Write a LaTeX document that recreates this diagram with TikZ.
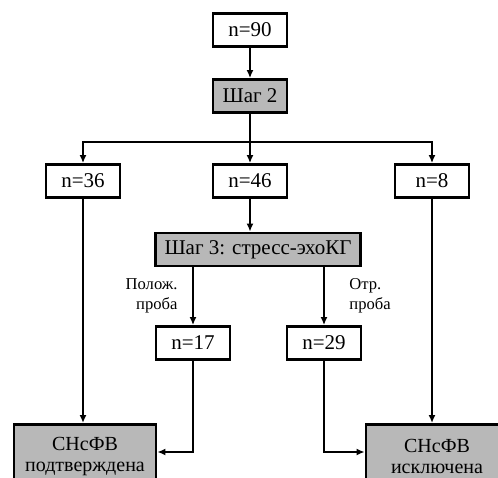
\documentclass[tikz,border=0pt]{standalone}
\usepackage{fontspec}
\setmainfont{Liberation Serif}
\usetikzlibrary{arrows.meta}

\begin{document}
\begin{tikzpicture}[x=0.5pt,y=-0.5pt,>={Latex[length=4pt,width=3.5pt]},
    box/.style={draw,line width=1.4pt,minimum width=37pt,minimum height=16.5pt,inner sep=0pt,font=\fontsize{10.5}{12}\selectfont},
    graybox/.style={box,fill=black!28},
    result/.style={graybox,minimum width=71pt,minimum height=32pt,align=center,anchor=north,
      font=\fontsize{10}{10.5}\selectfont},
    flow/.style={line width=0.8pt},
    note/.style={font=\fontsize{8.3}{10}\selectfont,align=left}]
      \useasboundingbox (0,0) rectangle (498,477);
      \clip (0,0) rectangle (498,477);
      \node[box] (n90) at (250,30) {n=90};
      \node[graybox] (step2) at (250,96) {Шаг 2};
      \coordinate (split) at (250,142);
      \node[box] (n36) at (83,181) {n=36};
      \node[box] (n46) at (250,181) {n=46};
      \node[box] (n8) at (432,181) {n=8};
      \node[graybox,minimum width=102.5pt] (step3) at (258,249.5) {Шаг 3: стресс-эхоКГ};
      \node[box] (n17) at (193,343) {n=17};
      \node[box] (n29) at (324,343) {n=29};
      \node[result] (yes) at (85,423) {СНсФВ\\подтверждена};
      \node[result] (no) at (437,423) {СНсФВ\\исключена};
      \draw[->,flow] (n90) -- (step2);
      \draw[flow] (step2) -- (split);
      \draw[->,flow] (split) -| (n36);
      \draw[->,flow] (split) -- (n46);
      \draw[->,flow] (split) -| (n8);
      \draw[->,flow] (n46) -- (n46 |- step3.north);
      \draw[->,flow] (step3.south -| n17) -- node[note,left=4pt,align=right] {Полож.\\проба} (n17);
      \draw[->,flow] (step3.south -| n29) -- node[note,right=9pt] {Отр.\\проба} (n29);
      %
      \draw[->,flow] (n36) -- (n36 |- yes.north);
      \draw[->,flow] (n8) -- (n8 |- no.north);
      \draw[->,flow] (n17) |- (yes.east |- 0,452);
      \draw[->,flow] (n29) |- (no.west |- 0,452);
\end{tikzpicture}
\end{document}
